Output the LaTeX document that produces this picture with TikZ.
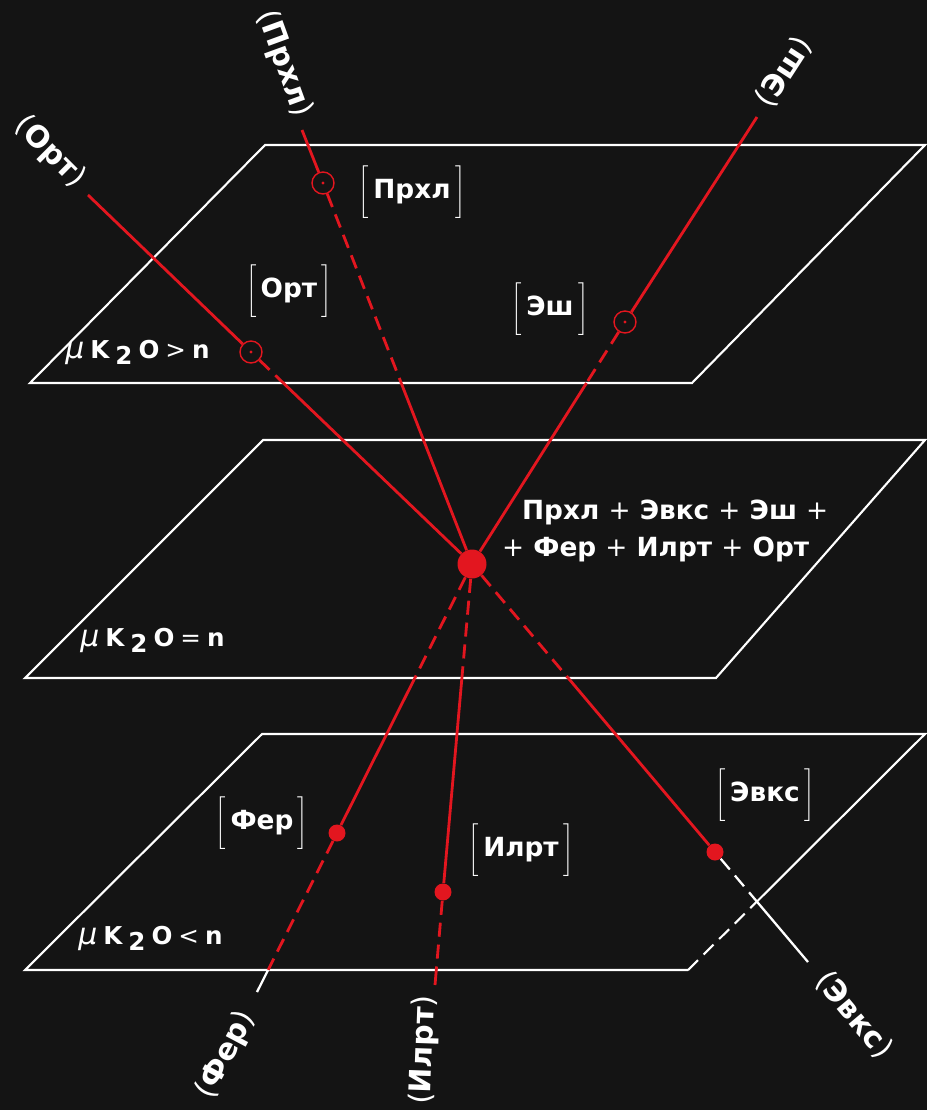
\documentclass[tikz,border=0pt]{standalone}
\usepackage{fontspec}
\setmainfont{DejaVu Sans}
\usepackage{tikz}
\usetikzlibrary{calc}
\definecolor{bg-dark}{HTML}{141414}
\definecolor{field-red}{HTML}{E3161F}
\newcommand{\phbr}[1]{$\Biggl[$\,#1\,$\Biggr]$}
\newcommand{\axlbl}[1]{{\mdseries(}#1{\mdseries)}}
\newcommand{\plsign}{{\mdseries +}}
\newcommand{\kgap}{\hspace{0.12cm}}
\newcommand{\mulabel}[1]{{\mdseries\itshape\fontsize{17}{17}\selectfont μ}\kgap K\kgap\raisebox{-0.25em}{2}\kgap O\kgap{\mdseries #1}\kgap n}

\begin{document}
\begin{tikzpicture}[x=0.02cm, y=-0.02cm,
    plane/.style={draw=white, line width=1.2pt},
    phase/.style={draw=field-red, line width=1.6pt},
    hidden/.style={dash pattern=on 8pt off 4.5pt},
    tail/.style={draw=white, line width=1.3pt},
    ring/.style={circle, draw=field-red, line width=0.8pt, minimum size=0.44cm, inner sep=0pt,
        path picture={\fill[field-red] (path picture bounding box.center) circle (0.9pt);}},
    pdot/.style={circle, fill=field-red, minimum size=0.34cm, inner sep=0pt},
    invpt/.style={circle, fill=field-red, minimum size=0.58cm, inner sep=0pt},
    lbl/.style={text=white, font=\fontsize{15}{21}\selectfont\bfseries, inner sep=1pt},
    axname/.style={text=white, font=\fontsize{17}{20}\selectfont\bfseries, inner sep=1pt},
    mulbl/.style={text=white, font=\fontsize{14}{15}\selectfont\bfseries, anchor=west, inner sep=0pt}]

    \useasboundingbox (0,0) rectangle (927,1110);
    \fill[bg-dark] (0,0) rectangle (927,1110);

    \coordinate (P1nw) at (265,145);
    \coordinate (P1ne) at (925,145);
    \coordinate (P1se) at (692,383);
    \coordinate (P1sw) at (30,383);
    \coordinate (P2nw) at (263,440);
    \coordinate (P2ne) at (925,440);
    \coordinate (P2se) at (716,678);
    \coordinate (P2sw) at (25,678);
    \coordinate (P3nw) at (262,734);
    \coordinate (P3ne) at (925,734);
    \coordinate (P3se) at (688,970);
    \coordinate (P3sw) at (25,970);

    \node[invpt] (eq) at (472,564) {};
    \node[ring] (prxl) at (323,183) {};
    \node[ring] (ort) at (251,352) {};
    \node[ring] (esh) at (625,322) {};
    \node[pdot] (fer) at (337,833) {};
    \node[pdot] (ilrt) at (443,892) {};
    \node[pdot] (evks) at (715,852) {};

    \coordinate (prxl-end) at (302,130);
    \coordinate (ort-end) at (88,195);
    \coordinate (esh-end) at (757,117);
    \coordinate (fer-end) at (257,992);
    \coordinate (ilrt-end) at (435,985);
    \coordinate (evks-end) at (808,962);

    \coordinate (prxl-cut) at (intersection of prxl.center--eq.center and P1sw--P1se);
    \coordinate (ort-cut) at (intersection of ort.center--eq.center and P1sw--P1se);
    \coordinate (esh-cut) at (intersection of esh.center--eq.center and P1sw--P1se);
    \coordinate (fer-cut) at (intersection of fer.center--eq.center and P2sw--P2se);
    \coordinate (ilrt-cut) at (intersection of ilrt.center--eq.center and P2sw--P2se);
    \coordinate (evks-cut) at (intersection of evks.center--eq.center and P2sw--P2se);
    \coordinate (fer-low) at (intersection of fer.center--fer-end and P3sw--P3se);
    \coordinate (ilrt-low) at (intersection of ilrt.center--ilrt-end and P3sw--P3se);
    \coordinate (evks-low) at (intersection of evks.center--evks-end and P3ne--P3se);

    \draw[plane] (P1nw) -- (P1ne) -- (P1se) -- (P1sw) -- cycle;
    \draw[plane] (P2nw) -- (P2ne) -- (P2se) -- (P2sw) -- cycle;
    \draw[plane] (evks-low) -- (P3ne) -- (P3nw) -- (P3sw) -- (P3se);
    \draw[plane, hidden] (P3se) -- (evks-low);

    \draw[phase] (prxl-end) -- (prxl);
    \draw[phase, hidden] (prxl) -- (prxl-cut);
    \draw[phase] (prxl-cut) -- (eq);
    \draw[phase] (ort-end) -- (ort);
    \draw[phase, hidden] (ort) -- (ort-cut);
    \draw[phase] (ort-cut) -- (eq);
    \draw[phase] (esh-end) -- (esh);
    \draw[phase, hidden] (esh) -- (esh-cut);
    \draw[phase] (esh-cut) -- (eq);

    \draw[phase, hidden] (eq) -- (fer-cut);
    \draw[phase] (fer-cut) -- (fer);
    \draw[phase, hidden] (fer) -- (fer-low);
    \draw[tail] (fer-low) -- (fer-end);
    \draw[phase, hidden] (eq) -- (ilrt-cut);
    \draw[phase] (ilrt-cut) -- (ilrt);
    \draw[phase, hidden] (ilrt) -- (ilrt-low);
    \draw[phase] (ilrt-low) -- (ilrt-end);
    \draw[phase, hidden] (eq) -- (evks-cut);
    \draw[phase] (evks-cut) -- (evks);
    \draw[tail, hidden] (evks) -- (evks-low);
    \draw[tail] (evks-low) -- (evks-end);

    \node[axname, rotate=-70] (prxl-name) at (284,64) {\axlbl{Прхл}};
    \node[axname, rotate=-45] (ort-name) at (50,152) {\axlbl{Орт}};
    \node[axname, rotate=57] (esh-name) at (784,72) {\axlbl{Эш}};
    \node[axname, rotate=62] (fer-name) at (226,1055) {\axlbl{Фер}};
    \node[axname, rotate=88] (ilrt-name) at (424,1050) {\axlbl{Илрт}};
    \node[axname, rotate=-50] (evks-name) at (854,1015) {\axlbl{Эвкс}};

    \node[lbl] (prxl-phase) at (412,192) {\phbr{Прхл}};
    \node[lbl] (ort-phase) at (289,291) {\phbr{Орт}};
    \node[lbl] (esh-phase) at (550,309) {\phbr{Эш}};
    \node[lbl] (fer-phase) at (262,823) {\phbr{Фер}};
    \node[lbl] (ilrt-phase) at (521,850) {\phbr{Илрт}};
    \node[lbl] (evks-phase) at (765,795) {\phbr{Эвкс}};

    \node[lbl, anchor=west, align=left] (assemblage) at (500,531)
        {\hspace*{0.4cm}Прхл \plsign{} Эвкс \plsign{} Эш \plsign\\\plsign{} Фер \plsign{} Илрт \plsign{} Орт};

    \node[mulbl] (mu-high) at (65,352) {\mulabel{>}};
    \node[mulbl] (mu-eq) at (80,640) {\mulabel{=}};
    \node[mulbl] (mu-low) at (78,938) {\mulabel{<}};
\end{tikzpicture}
\end{document}
